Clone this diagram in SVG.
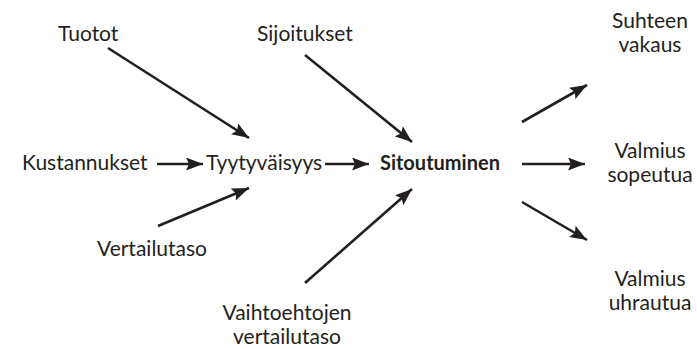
<svg xmlns="http://www.w3.org/2000/svg" width="697" height="349" viewBox="0 0 697 349">
<style>
text{font-family:Lato,"Open Sans","Liberation Sans",sans-serif;font-size:21px;fill:#231f20}
.b{font-weight:bold;font-size:20px}
.c{text-anchor:middle}
.ln{stroke:#231f20;stroke-width:2.6;fill:none;marker-end:url(#ah)}
</style>
<defs>
<marker id="ah" markerUnits="userSpaceOnUse" markerWidth="20" markerHeight="14" refX="17" refY="6.5" orient="auto">
<path d="M0,0 L17,6.5 L0,13 L3,6.5 Z" fill="#231f20"/>
</marker>
</defs>
<rect width="697" height="349" fill="#fff"/>
<g id="connectors">
<line class="ln" x1="108" y1="48" x2="249" y2="138"/>
<line class="ln" x1="157" y1="164" x2="203" y2="164"/>
<line class="ln" x1="158" y1="226" x2="249" y2="188"/>
<line class="ln" x1="325" y1="164" x2="369" y2="164"/>
<line class="ln" x1="305" y1="55" x2="412" y2="142"/>
<line class="ln" x1="305" y1="283" x2="412" y2="189"/>
<line class="ln" x1="522" y1="122" x2="587" y2="85"/>
<line class="ln" x1="522" y1="164" x2="585" y2="164"/>
<line class="ln" x1="522" y1="202" x2="587" y2="240"/>
</g>
<g id="tuotot"><text x="58" y="41">Tuotot</text></g>
<g id="sijoitukset"><text x="257" y="41">Sijoitukset</text></g>
<g id="kustannukset"><text x="22" y="170">Kustannukset</text></g>
<g id="tyytyvaisyys"><text x="206" y="170">Tyytyväisyys</text></g>
<g id="sitoutuminen"><text class="b" x="380" y="170">Sitoutuminen</text></g>
<g id="vertailutaso"><text x="97" y="256">Vertailutaso</text></g>
<g id="vaihtoehtojen"><text class="c" x="287" y="320">Vaihtoehtojen</text><text class="c" x="287" y="344">vertailutaso</text></g>
<g id="suhteen"><text class="c" x="650" y="28">Suhteen</text><text class="c" x="650" y="52">vakaus</text></g>
<g id="sopeutua"><text class="c" x="650" y="158">Valmius</text><text class="c" x="650" y="182">sopeutua</text></g>
<g id="uhrautua"><text class="c" x="650" y="286">Valmius</text><text class="c" x="650" y="310">uhrautua</text></g>
</svg>
